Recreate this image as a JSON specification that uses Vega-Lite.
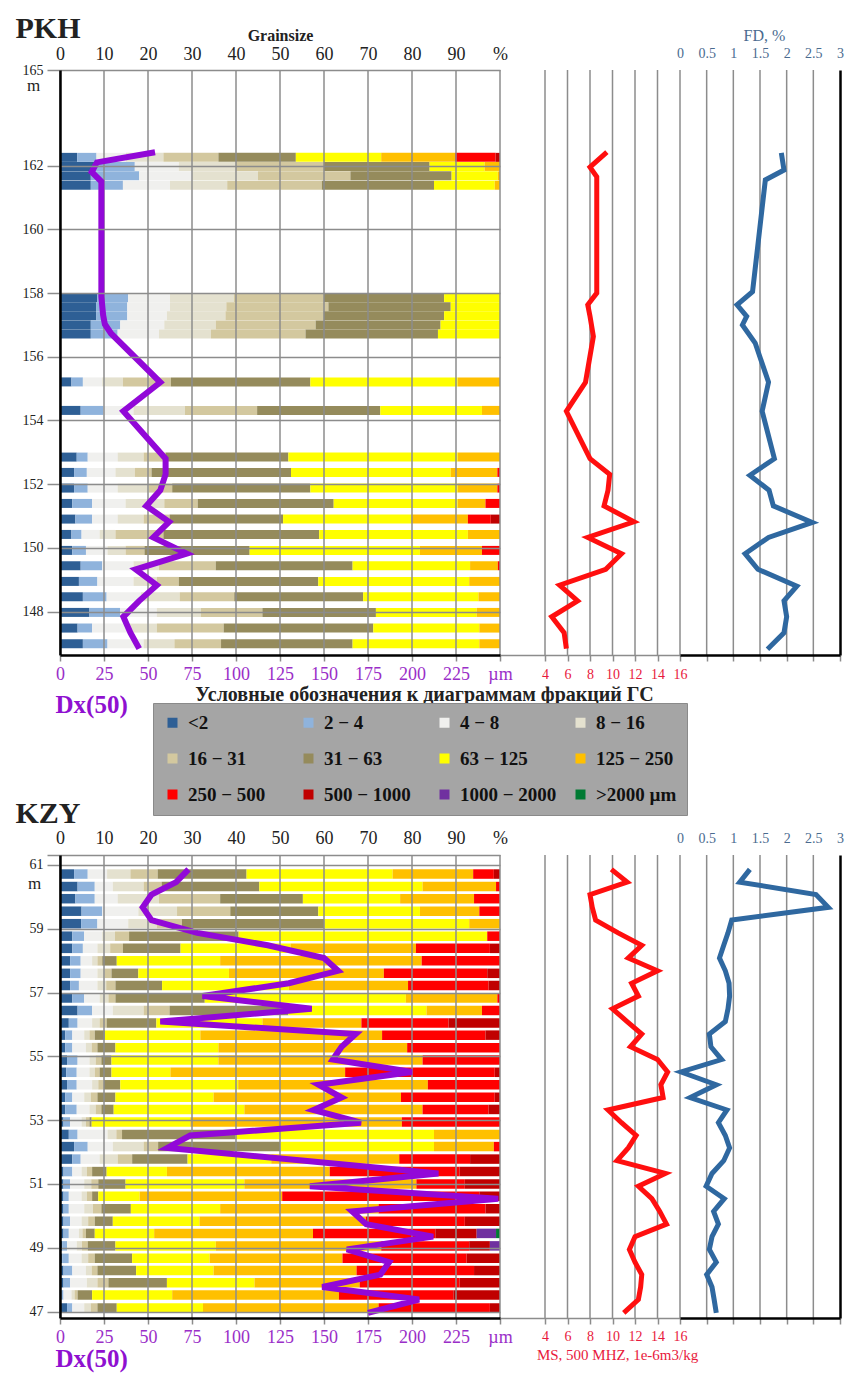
{
"$schema":"https://vega.github.io/schema/vega-lite/v6.json",
"width":780,"height":1248,
"autosize":{"type":"none"},
"padding":{"left":60,"top":70,"right":17,"bottom":57},
"background":"white",
"config":{"view":{"stroke":null},"axis":{"labelFont":"Liberation Serif","titleFont":"Liberation Serif","labelOverlap":false,"labelFlush":false,"labelBound":false,"grid":false},"legend":{"labelFont":"Liberation Serif"}},
"datasets":{
"fr":[{"key":"a","frac":"<2","ord":1},{"key":"b","frac":"2 − 4","ord":2},{"key":"c","frac":"4 − 8","ord":3},{"key":"d","frac":"8 − 16","ord":4},{"key":"e","frac":"16 − 31","ord":5},{"key":"f","frac":"31 − 63","ord":6},{"key":"g","frac":"63 − 125","ord":7},{"key":"h","frac":"125 − 250","ord":8},{"key":"i","frac":"250 − 500","ord":9},{"key":"j","frac":"500 − 1000","ord":10},{"key":"k","frac":"1000 − 2000","ord":11},{"key":"l","frac":">2000 µm","ord":12}],
"gp":[{"v":0},{"v":10},{"v":20},{"v":30},{"v":40},{"v":50},{"v":60},{"v":70},{"v":80},{"v":90},{"v":100}],
"gm":[{"v":4},{"v":6},{"v":8},{"v":10},{"v":12},{"v":14},{"v":16}],
"gf":[{"v":0.5},{"v":1},{"v":1.5},{"v":2},{"v":2.5}],
"pkh":[
{"depth":162.37,"a":3.9,"b":4.4,"c":6.7,"d":8.5,"e":12.5,"f":17.6,"g":19.4,"h":16.8,"i":9.2,"j":1.0},
{"depth":162.08,"a":8,"b":9,"c":10,"d":13,"e":20,"f":24,"g":12.5,"h":3.5},
{"depth":161.78,"a":7,"b":11,"c":12,"d":15,"e":21,"f":23,"g":10.5,"h":0.5},
{"depth":161.48,"a":7,"b":7.3,"c":10.7,"d":13,"e":21.5,"f":25.5,"g":13.8,"h":1.2},
{"depth":157.89,"a":8.5,"b":7,"c":9.5,"d":14.5,"e":20.5,"f":27.3,"g":12.7},
{"depth":157.6,"a":8.2,"b":7.1,"c":9.7,"d":12.8,"e":23.2,"f":27.8,"g":11.2},
{"depth":157.31,"a":8.2,"b":7.1,"c":9,"d":13.3,"e":22.3,"f":27.4,"g":12.7},
{"depth":157.02,"a":7,"b":6.7,"c":10,"d":11.7,"e":22.7,"f":28.4,"g":13.5},
{"depth":156.73,"a":7,"b":6.1,"c":9.4,"d":11.8,"e":21.5,"f":30.1,"g":14.1},
{"depth":155.2,"a":2.6,"b":2.6,"c":4.4,"d":4.7,"e":10.9,"f":31.7,"g":33.5,"h":9.6},
{"depth":154.29,"a":4.7,"b":5.2,"c":6.8,"d":11.7,"e":16.4,"f":28,"g":23.1,"h":4.1},
{"depth":152.8,"a":3.8,"b":2.5,"c":6.8,"d":5.9,"e":5,"f":27.9,"g":38.5,"h":9.6},
{"depth":152.31,"a":3.2,"b":2.9,"c":6.5,"d":4.4,"e":3.8,"f":31.7,"g":36.3,"h":10.6,"i":0.6},
{"depth":151.81,"a":3.2,"b":3.1,"c":6.8,"d":7.1,"e":5.3,"f":31.4,"g":33.5,"h":9,"i":0.6},
{"depth":151.32,"a":2.8,"b":4.5,"c":7.6,"d":8.8,"e":7.6,"f":30.9,"g":28.2,"h":6.3,"i":3.3},
{"depth":150.82,"a":3.5,"b":3.8,"c":5.8,"d":5.9,"e":5.9,"f":25.8,"g":29.1,"h":12.9,"i":5.2,"j":2.1},
{"depth":150.33,"a":2.6,"b":2.3,"c":4.1,"d":3.6,"e":10.9,"f":35.4,"g":33.8,"h":7.3},
{"depth":149.82,"a":2.8,"b":3.1,"c":4.9,"d":4.1,"e":4.3,"f":23.9,"g":38.7,"h":14.1,"i":4.1},
{"depth":149.33,"a":4.7,"b":4.9,"c":7.1,"d":5.8,"e":12.9,"f":31.1,"g":26.7,"h":6.3,"i":0.5},
{"depth":148.83,"a":4.3,"b":4.2,"c":8.2,"d":5.3,"e":5,"f":31.7,"g":34.3,"h":7},
{"depth":148.34,"a":5.2,"b":5.4,"c":7.8,"d":8.8,"e":12.4,"f":29.3,"g":26.2,"h":4.9},
{"depth":147.84,"a":6.7,"b":7,"c":8.3,"d":10,"e":14,"f":25.8,"g":22.9,"h":5.3},
{"depth":147.34,"a":4,"b":3.3,"c":8.2,"d":6.5,"e":15.2,"f":34,"g":24.1,"h":4.7},
{"depth":146.84,"a":5.2,"b":5.6,"c":8.2,"d":7,"e":10.6,"f":29.9,"g":28.8,"h":4.7}
],
"kzy":[
{"depth":60.86,"a":3.2,"b":3.1,"c":4.4,"d":5.3,"e":6.2,"f":20.2,"g":33.2,"h":18.3,"i":4.7,"j":1.4},
{"depth":60.46,"a":4,"b":3.9,"c":4.1,"d":7,"e":4.1,"f":22.2,"g":37.1,"h":16.7,"i":0.9},
{"depth":60.07,"a":3.5,"b":4.4,"c":5.2,"d":9.4,"e":13.9,"f":18.8,"g":22.1,"h":16.8,"i":5.9},
{"depth":59.67,"a":4.9,"b":4.7,"c":8.2,"d":8.8,"e":12.1,"f":20,"g":23.1,"h":13.5,"i":4.7},
{"depth":59.27,"a":4.8,"b":3.7,"c":7,"d":6.5,"e":5.7,"f":32.4,"g":32.9,"h":7},
{"depth":58.87,"a":2.8,"b":2.7,"c":4.1,"d":2.9,"e":3.2,"f":24.9,"g":56.5,"i":2.9},
{"depth":58.48,"a":2.8,"b":2.4,"c":3.3,"d":2.9,"e":2.9,"f":13.1,"g":25,"h":28.5,"i":16.8,"j":2.3},
{"depth":58.08,"a":2.3,"b":2.4,"c":2.6,"d":1.2,"e":1.1,"f":3.3,"g":23.5,"h":45.8,"i":17.8},
{"depth":57.68,"a":2.3,"b":2.4,"c":3.8,"d":1.6,"e":1.6,"f":6.1,"g":20.6,"h":35.2,"i":23.5,"j":2.9},
{"depth":57.29,"a":2.3,"b":2,"c":4.2,"d":2,"e":2.1,"f":10.6,"g":28.8,"h":27.1,"i":18.3,"j":2.6},
{"depth":56.89,"a":2.8,"b":2.7,"c":3.5,"d":2,"e":1.6,"f":20.3,"g":45.7,"h":20.8,"i":0.6},
{"depth":56.49,"a":4,"b":3.3,"c":4.7,"d":7,"e":5.9,"f":27,"g":31.4,"h":12.6,"i":4.1},
{"depth":56.09,"a":2,"b":2,"c":3.3,"d":1.7,"e":1.6,"f":11.3,"g":24.1,"h":22.5,"i":19.8,"j":11.7},
{"depth":55.70,"a":1.2,"b":1.6,"c":2.7,"d":1.2,"e":1.2,"f":2.3,"g":21.7,"h":41.3,"i":23.5,"j":3.3},
{"depth":55.30,"a":1.2,"b":1.6,"c":3.1,"d":1.3,"e":1.3,"f":4.1,"g":23.4,"h":42.9,"i":21.1},
{"depth":54.90,"a":1.6,"b":2.4,"c":2.7,"d":1.4,"e":1.3,"f":2.3,"g":24.3,"h":46.4,"i":17.6},
{"depth":54.51,"a":1.4,"b":2.4,"c":2.9,"d":1.2,"e":1.1,"f":2.7,"g":13.4,"h":39.7,"i":34,"j":1.2},
{"depth":54.11,"a":1.6,"b":2.2,"c":3.5,"d":1.4,"e":1.3,"f":3.7,"g":26.8,"h":43.1,"i":16.4},
{"depth":53.71,"a":1.2,"b":1.6,"c":2.7,"d":1.5,"e":1.5,"f":4.1,"g":22.3,"h":42.6,"i":21.3,"j":1.2},
{"depth":53.32,"a":1.2,"b":2.6,"c":2.9,"d":1.4,"e":1.3,"f":2.8,"g":29.7,"h":40.5,"i":15,"j":2.6},
{"depth":52.92,"a":0.8,"b":1.5,"c":2.6,"d":1,"e":0.8,"f":0.5,"g":22.4,"h":48.1,"i":22.3},
{"depth":52.52,"a":2,"b":2,"c":6.8,"d":2,"e":1.3,"f":25.8,"g":45.1,"h":15},
{"depth":52.13,"a":3.2,"b":3.1,"c":5.7,"d":7,"e":3.3,"f":27.8,"g":34.9,"h":13.6,"i":1.4},
{"depth":51.73,"a":2.8,"b":1.9,"c":4.3,"d":4.1,"e":3.3,"f":12.6,"g":19,"h":29.1,"i":16.1,"j":6.8},
{"depth":51.33,"a":0.8,"b":2,"c":2.1,"d":1.2,"e":1.2,"f":3.3,"g":13.7,"h":37,"i":29.5,"j":9.2},
{"depth":50.93,"a":0.8,"b":1.5,"c":3.2,"d":1.6,"e":1.6,"f":6.2,"g":27,"h":39.1,"i":11,"j":8},
{"depth":50.54,"a":0.8,"b":1.2,"c":2.9,"d":1.2,"e":1.2,"f":1.4,"g":9.4,"h":32.4,"i":44.8,"j":4.7},
{"depth":50.14,"a":0.8,"b":1.2,"c":3.5,"d":2,"e":1.9,"f":6.7,"g":20.3,"h":36,"i":24.3,"j":3.3},
{"depth":49.74,"a":0.8,"b":1.5,"c":2.6,"d":1.5,"e":1.5,"f":4.1,"g":19.7,"h":37.8,"i":22.5,"j":8},
{"depth":49.35,"a":0.8,"b":1.2,"c":2.3,"d":0.8,"e":0.8,"f":2,"g":13.5,"h":36.1,"i":27.8,"j":9.4,"k":4.4,"l":0.9},
{"depth":48.95,"a":0.5,"b":1.1,"c":2.2,"d":1.2,"e":1.3,"f":6.3,"g":22.8,"h":37.6,"i":20,"j":4.7,"k":2.3},
{"depth":48.55,"a":0.5,"b":1.5,"c":2.9,"d":1.5,"e":1.5,"f":8.5,"g":17.6,"h":30.2,"i":28.2,"j":7.6},
{"depth":48.16,"a":0.8,"b":2,"c":3.1,"d":1.3,"e":1.3,"f":8.8,"g":17.6,"h":32.5,"i":26.7,"j":5.9},
{"depth":47.77,"a":0.8,"b":1.5,"c":3.8,"d":2.4,"e":2.5,"f":13.3,"g":19.9,"h":23.9,"i":22.7,"j":9.2},
{"depth":47.38,"b":0.8,"c":1.8,"d":0.7,"e":0.7,"f":3.3,"g":18.2,"h":37.9,"i":26,"j":10.6},
{"depth":46.96,"a":1.6,"b":1.2,"c":2.7,"d":1.5,"e":1.5,"f":4.4,"g":19.6,"h":39.9,"i":25.3,"j":2.3}
],
"pdx":[{"depth":162.42,"v":54},{"depth":162.1,"v":21},{"depth":161.8,"v":18},{"depth":161.5,"v":23.5},{"depth":157.89,"v":23.5},{"depth":157.6,"v":24},{"depth":157.31,"v":24.5},{"depth":157.02,"v":25.5},{"depth":156.73,"v":29},{"depth":155.2,"v":57},{"depth":154.29,"v":36},{"depth":152.8,"v":60},{"depth":152.31,"v":60},{"depth":151.81,"v":57},{"depth":151.32,"v":49},{"depth":150.82,"v":62},{"depth":150.33,"v":53},{"depth":149.82,"v":72},{"depth":149.33,"v":43},{"depth":148.83,"v":55},{"depth":148.34,"v":45},{"depth":147.84,"v":36},{"depth":147.34,"v":40},{"depth":146.84,"v":45}],
"pms":[{"depth":162.42,"v":9.5},{"depth":161.95,"v":8.0},{"depth":161.65,"v":8.6},{"depth":158.0,"v":8.6},{"depth":157.63,"v":7.8},{"depth":157.27,"v":8.0},{"depth":156.64,"v":8.3},{"depth":155.2,"v":7.6},{"depth":154.29,"v":5.9},{"depth":152.8,"v":8.0},{"depth":152.31,"v":9.75},{"depth":151.81,"v":9.6},{"depth":151.32,"v":9.25},{"depth":150.82,"v":11.9},{"depth":150.33,"v":7.8},{"depth":149.82,"v":10.8},{"depth":149.33,"v":9.4},{"depth":148.83,"v":5.3},{"depth":148.34,"v":6.9},{"depth":147.84,"v":4.6},{"depth":147.34,"v":5.7},{"depth":146.84,"v":5.9}],
"pfd":[{"depth":162.4,"v":1.9},{"depth":161.86,"v":1.95},{"depth":161.55,"v":1.6},{"depth":158.04,"v":1.36},{"depth":157.63,"v":1.07},{"depth":157.27,"v":1.25},{"depth":157.0,"v":1.17},{"depth":156.43,"v":1.41},{"depth":155.2,"v":1.66},{"depth":154.29,"v":1.54},{"depth":152.8,"v":1.77},{"depth":152.28,"v":1.31},{"depth":151.81,"v":1.67},{"depth":151.32,"v":1.75},{"depth":150.8,"v":2.48},{"depth":150.33,"v":1.66},{"depth":149.82,"v":1.22},{"depth":149.33,"v":1.46},{"depth":148.8,"v":2.19},{"depth":148.34,"v":1.95},{"depth":147.84,"v":2.0},{"depth":147.34,"v":1.95},{"depth":146.82,"v":1.64}],
"kdx":[{"depth":60.86,"v":73},{"depth":60.46,"v":66},{"depth":60.07,"v":52},{"depth":59.67,"v":47},{"depth":59.27,"v":52},{"depth":58.87,"v":78},{"depth":58.48,"v":118},{"depth":58.08,"v":150},{"depth":57.68,"v":158},{"depth":57.29,"v":130},{"depth":56.89,"v":81},{"depth":56.49,"v":143},{"depth":56.09,"v":57},{"depth":55.70,"v":168},{"depth":55.30,"v":160},{"depth":54.90,"v":155},{"depth":54.51,"v":200},{"depth":54.11,"v":147},{"depth":53.71,"v":160},{"depth":53.32,"v":144},{"depth":52.92,"v":171},{"depth":52.52,"v":74},{"depth":52.13,"v":61},{"depth":51.73,"v":139},{"depth":51.33,"v":215},{"depth":50.93,"v":142},{"depth":50.54,"v":249},{"depth":50.14,"v":166},{"depth":49.74,"v":174},{"depth":49.35,"v":212},{"depth":48.95,"v":163},{"depth":48.55,"v":187},{"depth":48.16,"v":182},{"depth":47.77,"v":149},{"depth":47.38,"v":204},{"depth":46.96,"v":175}],
"kms":[{"depth":60.86,"v":9.9},{"depth":60.46,"v":11.3},{"depth":60.07,"v":8.0},{"depth":59.67,"v":8.2},{"depth":59.27,"v":8.5},{"depth":58.87,"v":10.5},{"depth":58.48,"v":12.6},{"depth":58.08,"v":11.4},{"depth":57.68,"v":14.0},{"depth":57.29,"v":11.7},{"depth":56.89,"v":12.3},{"depth":56.49,"v":10.0},{"depth":56.09,"v":11.3},{"depth":55.70,"v":12.6},{"depth":55.30,"v":11.6},{"depth":54.90,"v":14.0},{"depth":54.51,"v":14.9},{"depth":54.11,"v":14.3},{"depth":53.71,"v":14.5},{"depth":53.32,"v":9.6},{"depth":52.92,"v":10.8},{"depth":52.52,"v":12.1},{"depth":52.13,"v":11.4},{"depth":51.73,"v":10.4},{"depth":51.33,"v":14.7},{"depth":50.93,"v":12.3},{"depth":50.54,"v":13.5},{"depth":50.14,"v":14.2},{"depth":49.74,"v":14.8},{"depth":49.35,"v":12.0},{"depth":48.95,"v":11.5},{"depth":48.55,"v":12.0},{"depth":48.16,"v":12.6},{"depth":47.77,"v":12.5},{"depth":47.38,"v":12.3},{"depth":46.96,"v":11.0}],
"kfd":[{"depth":60.86,"v":1.31},{"depth":60.46,"v":1.12},{"depth":60.07,"v":2.55},{"depth":59.67,"v":2.78},{"depth":59.27,"v":0.97},{"depth":58.87,"v":0.9},{"depth":58.48,"v":0.82},{"depth":58.08,"v":0.74},{"depth":57.68,"v":0.85},{"depth":57.29,"v":0.92},{"depth":56.89,"v":0.93},{"depth":56.49,"v":0.9},{"depth":56.09,"v":0.85},{"depth":55.70,"v":0.55},{"depth":55.30,"v":0.58},{"depth":54.90,"v":0.78},{"depth":54.51,"v":0.02},{"depth":54.11,"v":0.68},{"depth":53.71,"v":0.19},{"depth":53.32,"v":0.88},{"depth":52.92,"v":0.72},{"depth":52.52,"v":0.85},{"depth":52.13,"v":0.93},{"depth":51.73,"v":0.82},{"depth":51.33,"v":0.6},{"depth":50.93,"v":0.49},{"depth":50.54,"v":0.83},{"depth":50.14,"v":0.63},{"depth":49.74,"v":0.72},{"depth":49.35,"v":0.6},{"depth":48.95,"v":0.55},{"depth":48.55,"v":0.68},{"depth":48.16,"v":0.5},{"depth":47.77,"v":0.6},{"depth":47.38,"v":0.64},{"depth":46.96,"v":0.68}]
},
"resolve":{"scale":{"x":"independent","y":"independent"},"axis":{"x":"independent","y":"independent"}},
"layer":[
{"data":{"name":"pkh"},
 "transform":[{"fold":["a","b","c","d","e","f","g","h","i","j","k","l"],"as":["key","p"]},{"filter":"datum.p > 0"},{"lookup":"key","from":{"data":{"name":"fr"},"key":"key","fields":["frac","ord"]}}],
 "mark":{"type":"bar","orient":"horizontal","size":9},
 "encoding":{
  "x":{"field":"p","type":"quantitative","stack":"zero","scale":{"domain":[0,100],"range":[0,440],"nice":false,"zero":false},"axis":null},
  "y":{"field":"depth","type":"quantitative","scale":{"domain":[146.64,165],"range":[585,0],"nice":false,"zero":false},"axis":null},
  "color":{"field":"frac","type":"nominal","scale":{"domain":["<2","2 − 4","4 − 8","8 − 16","16 − 31","31 − 63","63 − 125","125 − 250","250 − 500","500 − 1000","1000 − 2000",">2000 µm"],"range":["#2e5f95","#8fb3dc","#f0f0ee","#e4e1cf","#d3c89f","#958b5c","#ffff00","#ffc000","#ff0000","#c00000","#7030a0","#007a33"]},
   "legend":{"orient":"none","legendX":93,"legendY":633,"columns":4,"direction":"horizontal","title":null,"symbolType":"square","symbolSize":100,"symbolStrokeWidth":0,"labelFont":"Liberation Serif","labelFontSize":19,"labelFontWeight":"bold","labelColor":"#111","labelOffset":6,"columnPadding":14,"rowPadding":16,"padding":10,"fillColor":"#a5a5a5","strokeColor":"#8a8a8a","gridAlign":"all","labelLimit":200}},
  "order":{"field":"ord","type":"quantitative"}
 }},
{"data":{"name":"kzy"},
 "transform":[{"fold":["a","b","c","d","e","f","g","h","i","j","k","l"],"as":["key","p"]},{"filter":"datum.p > 0"},{"lookup":"key","from":{"data":{"name":"fr"},"key":"key","fields":["frac","ord"]}}],
 "mark":{"type":"bar","orient":"horizontal","size":9.5},
 "encoding":{
  "x":{"field":"p","type":"quantitative","stack":"zero","scale":{"domain":[0,100],"range":[0,440],"nice":false,"zero":false},"axis":null},
  "y":{"field":"depth","type":"quantitative","scale":{"domain":[46.8,61.31],"range":[1248,785],"nice":false,"zero":false},"axis":null},
  "color":{"field":"frac","type":"nominal","scale":{"domain":["<2","2 − 4","4 − 8","8 − 16","16 − 31","31 − 63","63 − 125","125 − 250","250 − 500","500 − 1000","1000 − 2000",">2000 µm"],"range":["#2e5f95","#8fb3dc","#f0f0ee","#e4e1cf","#d3c89f","#958b5c","#ffff00","#ffc000","#ff0000","#c00000","#7030a0","#007a33"]},
   "legend":{"orient":"none","legendX":93,"legendY":633,"columns":4,"direction":"horizontal","title":null,"symbolType":"square","symbolSize":100,"symbolStrokeWidth":0,"labelFont":"Liberation Serif","labelFontSize":19,"labelFontWeight":"bold","labelColor":"#111","labelOffset":6,"columnPadding":14,"rowPadding":16,"padding":10,"fillColor":"#a5a5a5","strokeColor":"#8a8a8a","gridAlign":"all","labelLimit":200}},
  "order":{"field":"ord","type":"quantitative"}
 }},
{"data":{"name":"gp"},"mark":{"type":"rule","color":"#8c8c8c","strokeWidth":1.5},
 "encoding":{
  "x":{"field":"v","type":"quantitative","scale":{"domain":[0,100],"range":[0,440],"nice":false,"zero":false},
   "axis":{"orient":"top","values":[0,10,20,30,40,50,60,70,80,90,100],"labelExpr":"datum.value == 100 ? '%' : datum.label","ticks":false,"tickSize":0,"domain":false,"labelFontSize":18,"labelColor":"#222","labelPadding":11,"labelBaseline":"alphabetic","title":"Grainsize","titleFontSize":16,"titleFontWeight":"bold","titleColor":"#222","titleX":220,"titleY":-30,"titleAlign":"center","titleBaseline":"alphabetic"}},
  "y":{"datum":146.64,"type":"quantitative","scale":{"domain":[146.64,165],"range":[585,0],"nice":false,"zero":false},
   "axis":{"orient":"left","values":[165,162,160,158,156,154,152,150,148],"grid":true,"gridColor":"#8c8c8c","gridWidth":1.5,"domain":true,"domainColor":"#000","domainWidth":2.5,"ticks":true,"tickSize":13,"tickColor":"#8c8c8c","tickWidth":1.5,"labelFontSize":14,"labelColor":"#222","labelPadding":4,"title":"PKH","titleFontSize":30,"titleFontWeight":"bold","titleColor":"#222","titleAngle":0,"titleX":-45,"titleY":-33,"titleAlign":"left","titleBaseline":"alphabetic","zindex":1}},
  "y2":{"datum":165}
 }},
{"data":{"name":"gm"},"mark":{"type":"rule","color":"#8c8c8c","strokeWidth":1.5},
 "encoding":{
  "x":{"field":"v","type":"quantitative","scale":{"domain":[0,16],"range":[440,620],"nice":false,"zero":false},
   "axis":{"orient":"bottom","offset":-663,"values":[4,6,8,10,12,14,16],"ticks":true,"tickSize":6,"tickColor":"#8c8c8c","tickWidth":1.5,"domain":true,"domainColor":"#8c8c8c","domainWidth":1.5,"labelFontSize":14,"labelColor":"#e8193c","labelPadding":17,"labelBaseline":"alphabetic","title":"Условные обозначения к диаграммам фракций ГС","titleFontSize":20,"titleFontWeight":"bold","titleColor":"#222","titleX":364,"titleY":45,"titleAlign":"center","titleBaseline":"alphabetic"}},
  "y":{"datum":146.64,"type":"quantitative","scale":{"domain":[146.64,165],"range":[585,0],"nice":false,"zero":false},
   "axis":{"orient":"left","labels":false,"ticks":false,"grid":false,"domain":false,"title":"m","titleFontSize":17,"titleFontWeight":"normal","titleColor":"#222","titleAngle":0,"titleX":-27,"titleY":20,"titleAlign":"center","titleBaseline":"alphabetic"}},
  "y2":{"datum":165}
 }},
{"data":{"name":"gf"},"mark":{"type":"rule","color":"#8c8c8c","strokeWidth":1.5},
 "encoding":{
  "x":{"field":"v","type":"quantitative","scale":{"domain":[0,3],"range":[620,780],"nice":false,"zero":false},
   "axis":{"orient":"top","values":[0,0.5,1,1.5,2,2.5,3],"format":"~g","ticks":false,"tickSize":0,"domain":false,"labelFontSize":14,"labelColor":"#4a6b8f","labelPadding":13,"labelBaseline":"alphabetic","title":"FD, %","titleFontSize":16,"titleFontWeight":"normal","titleColor":"#4a6b8f","titleX":704,"titleY":-30,"titleAlign":"center","titleBaseline":"alphabetic"}},
  "y":{"datum":146.64,"type":"quantitative","scale":{"domain":[146.64,165],"range":[585,0],"nice":false,"zero":false},
   "axis":{"orient":"right","labels":false,"ticks":false,"grid":false,"domain":true,"domainColor":"#000","domainWidth":2.5,"title":null,"zindex":1}},
  "y2":{"datum":165}
 }},
{"data":{"name":"gp"},"mark":{"type":"rule","color":"#8c8c8c","strokeWidth":1.5},
 "encoding":{
  "x":{"field":"v","type":"quantitative","scale":{"domain":[0,100],"range":[0,440],"nice":false,"zero":false},
   "axis":{"orient":"top","offset":-785,"values":[0,10,20,30,40,50,60,70,80,90,100],"labelExpr":"datum.value == 100 ? '%' : datum.label","ticks":false,"tickSize":0,"domain":false,"labelFontSize":18,"labelColor":"#222","labelPadding":12,"labelBaseline":"alphabetic","title":null}},
  "y":{"datum":46.8,"type":"quantitative","scale":{"domain":[46.8,61.31],"range":[1248,785],"nice":false,"zero":false},
   "axis":{"orient":"left","values":[61.31,61,59,57,55,53,51,49,47],"labelExpr":"datum.value > 61.2 ? '' : datum.label","grid":true,"gridColor":"#8c8c8c","gridWidth":1.5,"domain":true,"domainColor":"#000","domainWidth":2.5,"ticks":true,"tickSize":13,"tickColor":"#8c8c8c","tickWidth":1.5,"labelFontSize":14,"labelColor":"#222","labelPadding":4,"title":"KZY","titleFontSize":30,"titleFontWeight":"bold","titleColor":"#222","titleAngle":0,"titleX":-45,"titleY":752,"titleAlign":"left","titleBaseline":"alphabetic","zindex":1}},
  "y2":{"datum":61.31}
 }},
{"data":{"name":"gm"},"mark":{"type":"rule","color":"#8c8c8c","strokeWidth":1.5},
 "encoding":{
  "x":{"field":"v","type":"quantitative","scale":{"domain":[0,16],"range":[440,620],"nice":false,"zero":false},
   "axis":{"orient":"bottom","values":[4,6,8,10,12,14,16],"ticks":true,"tickSize":6,"tickColor":"#8c8c8c","tickWidth":1.5,"domain":true,"domainColor":"#8c8c8c","domainWidth":1.5,"labelFontSize":14,"labelColor":"#e8193c","labelPadding":16,"labelBaseline":"alphabetic","title":"MS, 500 MHZ, 1e-6m3/kg","titleFontSize":15,"titleFontWeight":"normal","titleColor":"#e8193c","titleX":557,"titleY":41,"titleAlign":"center","titleBaseline":"alphabetic"}},
  "y":{"datum":46.8,"type":"quantitative","scale":{"domain":[46.8,61.31],"range":[1248,785],"nice":false,"zero":false},
   "axis":{"orient":"left","labels":false,"ticks":false,"grid":false,"domain":false,"title":"m","titleFontSize":17,"titleFontWeight":"normal","titleColor":"#222","titleAngle":0,"titleX":-26,"titleY":818,"titleAlign":"center","titleBaseline":"alphabetic"}},
  "y2":{"datum":61.31}
 }},
{"data":{"name":"gf"},"mark":{"type":"rule","color":"#8c8c8c","strokeWidth":1.5},
 "encoding":{
  "x":{"field":"v","type":"quantitative","scale":{"domain":[0,3],"range":[620,780],"nice":false,"zero":false},
   "axis":{"orient":"top","offset":-785,"values":[0,0.5,1,1.5,2,2.5,3],"format":"~g","ticks":false,"tickSize":0,"domain":false,"labelFontSize":14,"labelColor":"#4a6b8f","labelPadding":13,"labelBaseline":"alphabetic","title":null}},
  "y":{"datum":46.8,"type":"quantitative","scale":{"domain":[46.8,61.31],"range":[1248,785],"nice":false,"zero":false},
   "axis":{"orient":"right","labels":false,"ticks":false,"grid":false,"domain":true,"domainColor":"#000","domainWidth":2.5,"title":null,"zindex":1}},
  "y2":{"datum":61.31}
 }},
{"data":{"name":"pdx"},"mark":{"type":"line","color":"#9208d8","strokeWidth":6},
 "encoding":{
  "x":{"field":"v","type":"quantitative","scale":{"domain":[0,250],"range":[0,440],"nice":false,"zero":false},
   "axis":{"orient":"bottom","offset":-663,"values":[0,25,50,75,100,125,150,175,200,225,250],"labelExpr":"datum.value == 250 ? 'µm' : datum.label","ticks":true,"tickSize":6,"tickColor":"#8c8c8c","tickWidth":1.5,"domain":true,"domainColor":"#000","domainWidth":2.5,"labelFontSize":18,"labelColor":"#9a2ec8","labelPadding":18,"labelBaseline":"alphabetic","title":"Dx(50)","titleFontSize":25,"titleFontWeight":"bold","titleColor":"#8f10d0","titleX":-5,"titleY":57,"titleAlign":"left","titleBaseline":"alphabetic","zindex":1}},
  "y":{"field":"depth","type":"quantitative","scale":{"domain":[146.64,165],"range":[585,0],"nice":false,"zero":false},"axis":null},
  "order":{"field":"depth","type":"quantitative"}
 }},
{"data":{"name":"pms"},"mark":{"type":"line","color":"#ff0f0f","strokeWidth":5},
 "encoding":{
  "x":{"field":"v","type":"quantitative","scale":{"domain":[0,16],"range":[440,620],"nice":false,"zero":false},"axis":null},
  "y":{"field":"depth","type":"quantitative","scale":{"domain":[146.64,165],"range":[585,0],"nice":false,"zero":false},"axis":null},
  "order":{"field":"depth","type":"quantitative"}
 }},
{"data":{"name":"pfd"},"mark":{"type":"line","color":"#2f68a0","strokeWidth":5},
 "encoding":{
  "x":{"field":"v","type":"quantitative","scale":{"domain":[0,3],"range":[620,780],"nice":false,"zero":false},
   "axis":{"orient":"bottom","offset":-663,"values":[0.5,1,1.5,2,2.5,3],"labels":false,"ticks":true,"tickSize":6,"tickColor":"#8c8c8c","tickWidth":1.5,"domain":true,"domainColor":"#000","domainWidth":2.5,"title":null,"zindex":1}},
  "y":{"field":"depth","type":"quantitative","scale":{"domain":[146.64,165],"range":[585,0],"nice":false,"zero":false},"axis":null},
  "order":{"field":"depth","type":"quantitative"}
 }},
{"data":{"name":"kdx"},"mark":{"type":"line","color":"#9208d8","strokeWidth":6},
 "encoding":{
  "x":{"field":"v","type":"quantitative","scale":{"domain":[0,250],"range":[0,440],"nice":false,"zero":false},
   "axis":{"orient":"bottom","values":[0,25,50,75,100,125,150,175,200,225,250],"labelExpr":"datum.value == 250 ? 'µm' : datum.label","ticks":true,"tickSize":6,"tickColor":"#8c8c8c","tickWidth":1.5,"domain":true,"domainColor":"#000","domainWidth":2.5,"labelFontSize":18,"labelColor":"#9a2ec8","labelPadding":18,"labelBaseline":"alphabetic","title":"Dx(50)","titleFontSize":25,"titleFontWeight":"bold","titleColor":"#8f10d0","titleX":-5,"titleY":48,"titleAlign":"left","titleBaseline":"alphabetic","zindex":1}},
  "y":{"field":"depth","type":"quantitative","scale":{"domain":[46.8,61.31],"range":[1248,785],"nice":false,"zero":false},"axis":null},
  "order":{"field":"depth","type":"quantitative"}
 }},
{"data":{"name":"kms"},"mark":{"type":"line","color":"#ff0f0f","strokeWidth":5},
 "encoding":{
  "x":{"field":"v","type":"quantitative","scale":{"domain":[0,16],"range":[440,620],"nice":false,"zero":false},"axis":null},
  "y":{"field":"depth","type":"quantitative","scale":{"domain":[46.8,61.31],"range":[1248,785],"nice":false,"zero":false},"axis":null},
  "order":{"field":"depth","type":"quantitative"}
 }},
{"data":{"name":"kfd"},"mark":{"type":"line","color":"#2f68a0","strokeWidth":5},
 "encoding":{
  "x":{"field":"v","type":"quantitative","scale":{"domain":[0,3],"range":[620,780],"nice":false,"zero":false},
   "axis":{"orient":"bottom","values":[0.5,1,1.5,2,2.5,3],"labels":false,"ticks":true,"tickSize":6,"tickColor":"#8c8c8c","tickWidth":1.5,"domain":true,"domainColor":"#000","domainWidth":2.5,"title":null,"zindex":1}},
  "y":{"field":"depth","type":"quantitative","scale":{"domain":[46.8,61.31],"range":[1248,785],"nice":false,"zero":false},"axis":null},
  "order":{"field":"depth","type":"quantitative"}
 }}
]
}
